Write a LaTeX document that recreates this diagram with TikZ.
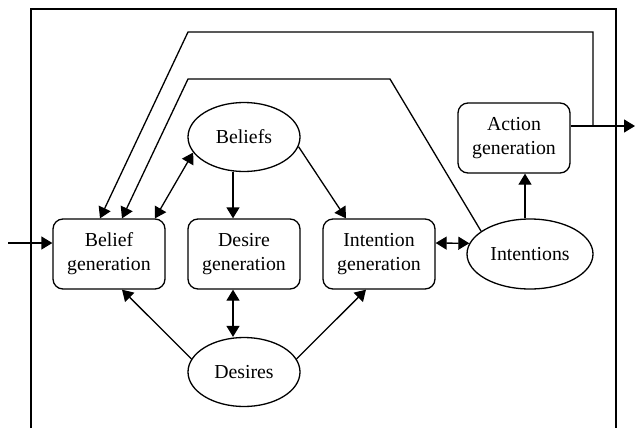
\documentclass[tikz,border=0pt]{standalone}
\usepackage{fontspec}
\setmainfont{Liberation Serif}
\usetikzlibrary{arrows.meta,shapes.geometric}
\tikzset{
  gen/.style={draw, rounded corners=5pt, minimum width=56pt, minimum height=35pt,
    inner sep=0pt, align=center, font=\fontsize{9.9}{12}\selectfont},
  store/.style={draw, ellipse, inner sep=0pt, minimum width=56pt, minimum height=34.5pt,
    font=\fontsize{9.9}{12}\selectfont},
  flow/.style={-{Triangle[length=5.5pt,width=6.5pt]}},
  dflow/.style={{Triangle[length=5.5pt,width=6.5pt]}-{Triangle[length=5.5pt,width=6.5pt]}}
}
\begin{document}
\begin{tikzpicture}[x=0.5pt,y=-0.5pt,line width=0.65pt]
        \useasboundingbox (0,0) rectangle (636,428);
        % the agent frame, open at the bottom
        \draw (31,428) -- (31,9) -- (616,9) -- (616,428);
        % generation boxes
        \node[gen] (bgen) at (109,254) {Belief\\generation};
        \node[gen] (dgen) at (244,254) {Desire\\generation};
        \node[gen] (igen) at (379,254) {Intention\\generation};
        \node[gen] (agen) at (514,138) {Action\\generation};
        % mental states
        \node[store] (beliefs) at (244,137) {Beliefs};
        \node[store] (desires) at (244,372) {Desires};
        \node[store, minimum width=63pt, minimum height=35pt] (intentions) at (530,254) {Intentions};
        % input and output
        \coordinate (in) at (8,243);
        \coordinate (out) at (635,126);
        \coordinate (tap) at (593,126);
        \draw[flow] (in) -- ([yshift=5.5pt]bgen.west);
        \draw[flow] ([yshift=6pt]agen.east) -- (out);
        % feedback to belief generation
        \draw[flow] (tap) -- (593,32) -- (188,32) -- ([xshift=-4.5pt]bgen.north);
        \draw[flow] (intentions.155) -- (390,79) -- (188,79) -- ([xshift=6.5pt]bgen.north);
        % beliefs
        \draw[dflow] (beliefs.197) -- ([xshift=23pt]bgen.north);
        \draw[flow] ([xshift=-5.5pt]beliefs.south) -- ([xshift=-5.5pt]dgen.north);
        \draw[flow] (beliefs.-10) -- ([xshift=-16.5pt]igen.north);
        % desires
        \draw[flow] (desires.166) -- ([xshift=6.5pt]bgen.south);
        \draw[dflow] ([xshift=-5.5pt]dgen.south) -- ([xshift=-5.5pt]desires.north);
        \draw[flow] (desires.14) -- ([xshift=-6.5pt]igen.south);
        % intentions
        \draw[dflow] ([yshift=5.5pt]igen.east) -- (intentions.170);
        \draw[flow] ([xshift=-2.5pt]intentions.north) -- ([xshift=5.5pt]agen.south);
\end{tikzpicture}
\end{document}
